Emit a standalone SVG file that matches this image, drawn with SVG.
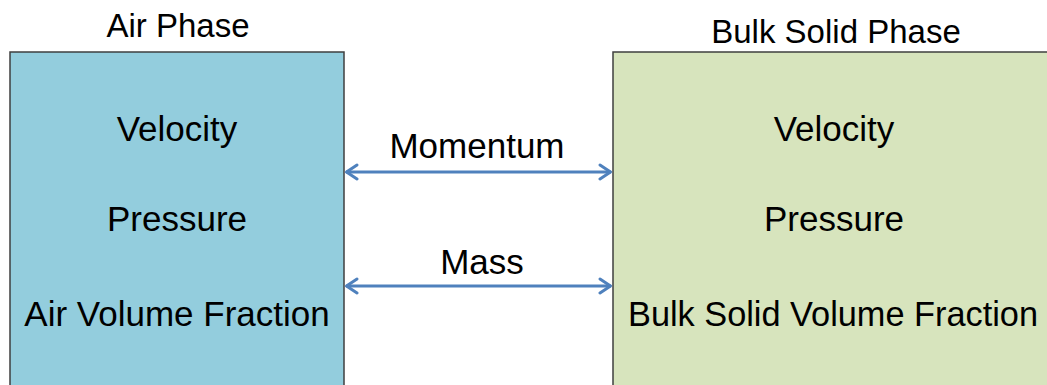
<svg xmlns="http://www.w3.org/2000/svg" width="1047" height="385" viewBox="0 0 1047 385">
  <style>
    .lbl { font-family: "Liberation Sans", Arial, sans-serif; font-size: 35px; fill: #000; text-anchor: middle; }
    .title { font-size: 33px; }
    .box { stroke: #3f3f3f; stroke-width: 1.5; }
    .air { fill: #93cddd; }
    .solid { fill: #d7e4bd; }
    .link { stroke: #4f81bd; stroke-width: 3; fill: none; marker-start: url(#head); marker-end: url(#head); }
  </style>
  <defs>
    <marker id="head" viewBox="0 0 14 18" refX="13" refY="9" markerWidth="14" markerHeight="18" markerUnits="userSpaceOnUse" orient="auto-start-reverse">
      <path d="M2,2 L12.5,9 L2,16" fill="none" stroke="#4f81bd" stroke-width="3" stroke-linecap="round" stroke-linejoin="round"/>
    </marker>
  </defs>
  <rect width="1047" height="385" fill="#ffffff"/>

  <!-- Air phase -->
  <g id="air-phase">
    <text class="lbl title" x="178" y="37">Air Phase</text>
    <rect class="box air" x="10" y="52" width="334" height="345"/>
    <text class="lbl" x="177" y="141">Velocity</text>
    <text class="lbl" x="177" y="231">Pressure</text>
    <text class="lbl" x="177" y="326">Air Volume Fraction</text>
  </g>

  <!-- Bulk solid phase -->
  <g id="solid-phase">
    <text class="lbl title" x="836" y="43">Bulk Solid Phase</text>
    <rect class="box solid" x="613" y="52" width="450" height="345"/>
    <text class="lbl" x="834" y="141">Velocity</text>
    <text class="lbl" x="834" y="231">Pressure</text>
    <text class="lbl" x="833" y="326" textLength="410" lengthAdjust="spacingAndGlyphs">Bulk Solid Volume Fraction</text>
  </g>

  <!-- Exchange terms between phases -->
  <g id="connectors">
    <text class="lbl" x="477" y="158">Momentum</text>
    <line class="link" x1="346" y1="172" x2="611" y2="172"/>
    <text class="lbl" x="482" y="274">Mass</text>
    <line class="link" x1="346" y1="286" x2="611" y2="286"/>
  </g>
</svg>
